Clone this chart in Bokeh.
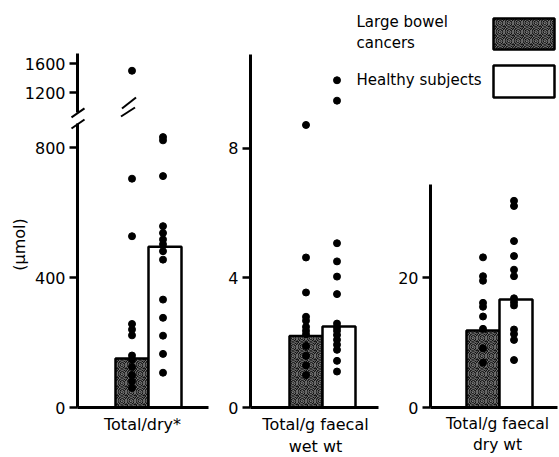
import math
from bokeh.plotting import figure
from bokeh.models import Range1d, LinearAxis, FixedTicker
from bokeh.core.properties import value
from bokeh.embed import file_html
from bokeh.resources import INLINE

# ---------------- data ----------------
groups = ["Large bowel cancers", "Healthy subjects"]
panel_labels = ["Total/dry*", "Total/g faecal\nwet wt", "Total/g faecal\ndry wt"]

# panel 1: total per dry (µmol)
dry_means = [151, 495]
dry_cancer = [1500, 704, 527, 257, 240, 222, 160, 148, 125, 100, 80, 60]
dry_healthy = [832, 822, 712, 558, 537, 517, 502, 481, 455, 332, 276, 221, 165, 107]
dry_ticks = [0, 400, 800, 1200, 1600]

# panel 2: total per g faecal wet wt
wet_means = [2.21, 2.50]
wet_cancer = [8.72, 4.63, 3.55, 2.80, 2.68, 2.49, 2.37, 2.26, 1.9, 1.6, 1.3, 1.0]
wet_healthy = [10.1, 9.47, 5.07, 4.51, 4.04, 3.50, 2.59, 2.47, 2.37, 2.24, 2.09,
               1.94, 1.78, 1.44, 1.11]
wet_ticks = [0, 4, 8]

# panel 3: total per g faecal dry wt
drywt_means = [11.85, 16.6]
drywt_cancer = [23.1, 20.2, 19.5, 16.1, 15.5, 14.0, 12.1, 9.1, 6.9]
drywt_healthy = [31.8, 31.0, 25.6, 23.3, 21.2, 20.2, 16.8, 16.2, 15.7, 12.0, 11.3,
                 10.4, 7.3]
drywt_ticks = [0, 20]

# ---------------- broken axis for panel 1 ----------------
LOW_TOP = 874.0      # end of lower axis segment
UP_START = 908.0     # start of upper axis segment
U1200 = 969.2        # where 1200 sits on the compressed upper segment
UP_SCALE = 0.2231    # compression of the upper segment
UP_TOP = 1089.0


def brk(v):
    return v if v <= LOW_TOP else U1200 + (v - 1200) * UP_SCALE


W, H = 559, 457
BASE = 50            # px from bottom of canvas to the zero line
FONT = "DejaVu Sans"
PX1, PX2, PX3 = 0.325, 32.4, 6.5   # px per unit in each panel

p = figure(width=W, height=H, x_range=Range1d(0, W),
           y_range=Range1d(-BASE / PX1, (H - BASE) / PX1),
           output_backend="svg", toolbar_location=None, min_border=0,
           outline_line_color=None, x_axis_type=None, y_axis_type=None,
           background_fill_color="white", border_fill_color="white")
p.extra_y_ranges = {"wet": Range1d(-BASE / PX2, (H - BASE) / PX2),
                    "drywt": Range1d(-BASE / PX3, (H - BASE) / PX3),
                    "page": Range1d(H, 0)}

BW = 33
DARK = dict(fill_color="#0c0c0c", hatch_pattern="spiral", hatch_color="white",
            hatch_scale=9, hatch_weight=0.6, hatch_alpha=0.9)
panels = [
    dict(ax=77, off=38, rn="default", means=dry_means, ca=[brk(v) for v in dry_cancer],
         he=[brk(v) for v in dry_healthy], ticks=dry_ticks, tf=brk, top=UP_TOP,
         end=208, lx=142, lab=panel_labels[0]),
    dict(ax=250, off=39, rn="wet", means=wet_means, ca=wet_cancer, he=wet_healthy,
         ticks=wet_ticks, tf=lambda v: v, top=10.9, end=378, lx=315, lab=panel_labels[1]),
    dict(ax=430, off=36, rn="drywt", means=drywt_means, ca=drywt_cancer, he=drywt_healthy,
         ticks=drywt_ticks, tf=lambda v: v, top=34.3, end=557, lx=497, lab=panel_labels[2]),
]

for k, d in enumerate(panels):
    c0 = d["ax"] + d["off"]
    rn = d["rn"]
    p.quad(left=[c0], right=[c0 + BW], bottom=[0], top=[d["means"][0]], y_range_name=rn,
           line_color="black", line_width=2.5, **DARK)
    p.quad(left=[c0 + BW], right=[c0 + 2 * BW], bottom=[0], top=[d["means"][1]],
           y_range_name=rn, fill_color="white", line_color="black", line_width=2.5)
    p.scatter(x=[c0 + BW / 2] * len(d["ca"]), y=d["ca"], y_range_name=rn, size=7,
              color="black")
    p.scatter(x=[c0 + BW * 1.5 - 2] * len(d["he"]), y=d["he"], y_range_name=rn, size=7,
              color="black")

    tpos = [float(d["tf"](t)) for t in d["ticks"]]
    ya = LinearAxis(y_range_name=rn, fixed_location=d["ax"],
                    ticker=FixedTicker(ticks=tpos),
                    major_label_overrides={tp: str(t) for tp, t in zip(tpos, d["ticks"])},
                    bounds=(0, d["top"]), axis_line_width=3, axis_line_color="black",
                    major_tick_line_width=2.5, major_tick_out=8, major_tick_in=0,
                    minor_tick_line_color=None, major_label_standoff=4,
                    major_label_text_font=FONT, major_label_text_font_size="16px",
                    major_label_text_color="black")
    if k == 0:
        ya.axis_line_color = None
    p.add_layout(ya, "left")

    xa = LinearAxis(fixed_location=0, ticker=FixedTicker(ticks=[d["lx"]]),
                    major_label_overrides={d["lx"]: d["lab"]},
                    bounds=(d["ax"], d["end"]), axis_line_width=3, axis_line_color="black",
                    major_tick_line_color=None, minor_tick_line_color=None,
                    major_label_standoff=1, major_label_text_font=FONT,
                    major_label_text_font_size="16px" if k < 2 else "15.5px",
                    major_label_text_color="black")
    p.add_layout(xa, "below")

# broken left axis drawn as two pieces
ax0 = panels[0]["ax"]
p.segment(x0=[ax0, ax0], x1=[ax0, ax0], y0=[0, UP_START], y1=[LOW_TOP, UP_TOP],
          line_width=3, color="black")
# break marks (page coordinates)
y_up = H - BASE - UP_START * PX1
y_lo = H - BASE - LOW_TOP * PX1
p.segment(x0=[ax0 - 6, ax0 - 6], y0=[y_up + 5, y_lo + 5], x1=[ax0 + 7, ax0 + 7],
          y1=[y_up - 4, y_lo - 4], y_range_name="page", line_width=2, color="black")
cx = panels[0]["ax"] + panels[0]["off"] + BW / 2
p.segment(x0=[cx - 11, cx - 10], y0=[116, 108], x1=[cx + 3, cx + 4], y1=[107, 97],
          y_range_name="page", line_width=2, color="black")

# y-axis unit label
p.text(x=[19], y=[244], text=["(\u03bcmol)"], angle=math.pi / 2, y_range_name="page",
       text_align="center", text_baseline="middle", text_font=value(FONT),
       text_font_size="16px", text_color="black")

# legend (text on the left of its boxes)
p.quad(left=[493], right=[554], top=[18], bottom=[49], y_range_name="page",
       line_color="black", line_width=2.5, **DARK)
p.quad(left=[493], right=[554], top=[65], bottom=[97], y_range_name="page",
       fill_color="white", line_color="black", line_width=2.5)
p.text(x=[356, 356, 356], y=[21, 42, 79], text=["Large bowel", "cancers", groups[1]],
       y_range_name="page", text_align="left", text_baseline="middle",
       text_font=value(FONT), text_font_size="15px", text_color="black")

open("out.html", "w").write(file_html(p, INLINE))
